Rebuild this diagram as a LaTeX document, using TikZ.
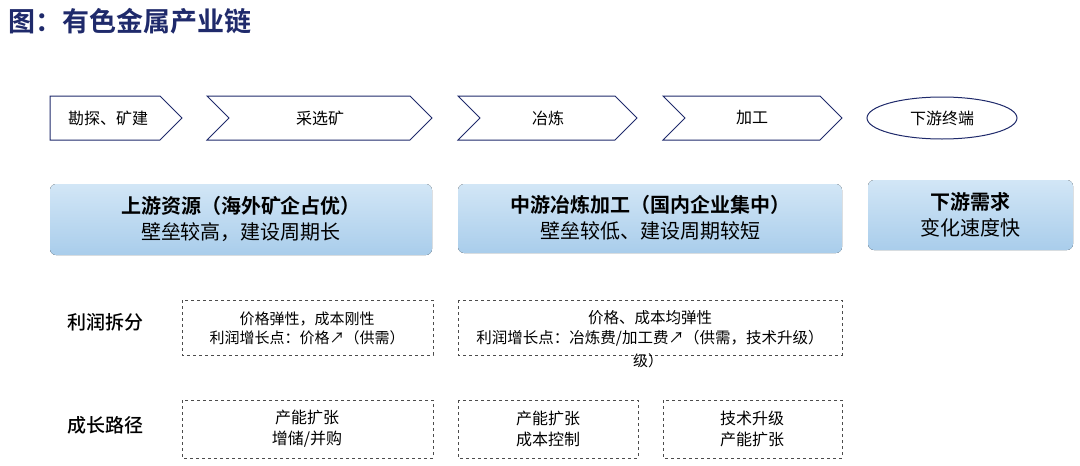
\documentclass[tikz,border=0pt]{standalone}
\usepackage{fontspec}
\setmainfont{Noto Sans CJK SC}
\newfontfamily\cjkb{Noto Sans CJK SC Bold}
\newfontfamily\cjkm{Noto Sans CJK SC Medium}
\usetikzlibrary{shapes.geometric}
\definecolor{navy}{HTML}{1F2A6B}
\definecolor{lblue}{HTML}{A9CDEB}
\definecolor{llblue}{HTML}{D2E6F6}
\tikzset{
  chev/.style={draw=navy, line width=1pt, fill=white},
  bluebox/.style={rounded corners=6pt, top color=llblue, bottom color=lblue, draw=none},
  dbox/.style={draw=black!70, dashed, line width=0.8pt},
  lbl/.style={font=\fontsize{15pt}{19pt}\selectfont, align=center},
  clbl/.style={font=\fontsize{16pt}{18pt}\selectfont},
}
\begin{document}
\begin{tikzpicture}[x=1pt,y=-1pt]
\useasboundingbox (0,0) rectangle (1080,466);
\node[anchor=west, text=navy, font=\cjkb\fontsize{27pt}{29pt}\selectfont] (title) at (5,21) {图：有色金属产业链};
% chevrons
\draw[chev] (50,96) -- (160,96) -- (182,118) -- (160,140) -- (50,140) -- cycle;
\node[clbl] (c1) at (108,118) {勘探、矿建};
\draw[chev] (207,96) -- (410,96) -- (432,118) -- (410,140) -- (207,140) -- (229,118) -- cycle;
\node[clbl] (c2) at (320,118) {采选矿};
\draw[chev] (458,96) -- (615,96) -- (637,118) -- (615,140) -- (458,140) -- (480,118) -- cycle;
\node[clbl] (c3) at (548,118) {冶炼};
\draw[chev] (663,96) -- (820,96) -- (842,118) -- (820,140) -- (663,140) -- (685,118) -- cycle;
\node[clbl] (c4) at (752,118) {加工};
\node[chev, ellipse, minimum width=150pt, minimum height=42pt, clbl] (c5) at (942,118) {下游终端};
% blue boxes
\fill[bluebox] (50,184) rectangle (432,255);
\node[align=center, font=\fontsize{20pt}{26pt}\selectfont] (b1) at (241,219) {{\cjkb 上游资源（海外矿企占优）}\\壁垒较高，建设周期长};
\fill[bluebox] (458,184) rectangle (842,253);
\node[align=center, font=\fontsize{20pt}{26pt}\selectfont] (b2) at (650,218) {{\cjkb 中游冶炼加工（国内企业集中）}\\壁垒较低、建设周期较短};
\fill[bluebox] (868,180) rectangle (1073,250);
\node[align=center, font=\fontsize{20pt}{26pt}\selectfont] (b3) at (970,215) {{\cjkb 下游需求}\\变化速度快};
% row labels
\node[font=\cjkm\fontsize{19pt}{21pt}\selectfont] (r1) at (105,322) {利润拆分};
\node[font=\cjkm\fontsize{19pt}{21pt}\selectfont] (r2) at (105,425) {成长路径};
% dashed boxes
\draw[dbox] (182,300) rectangle (433,355);
\node[lbl] (d1) at (307,328) {价格弹性，成本刚性\\利润增长点：价格↗（供需）};
\draw[dbox] (458,300) rectangle (842,355);
\node[lbl, font=\fontsize{15.5pt}{20pt}\selectfont] (d2) at (650,328) {价格、成本均弹性\\利润增长点：冶炼费/加工费↗（供需，技术升级）};
\node[lbl] (d2b) at (648,361) {级）};
\draw[dbox] (182,400) rectangle (433,458);
\node[lbl, font=\fontsize{16pt}{21pt}\selectfont] (e1) at (307,429) {产能扩张\\增储/并购};
\draw[dbox] (458,400) rectangle (638,458);
\node[lbl, font=\fontsize{16pt}{21pt}\selectfont] (e2) at (548,429) {产能扩张\\成本控制};
\draw[dbox] (663,400) rectangle (842,458);
\node[lbl, font=\fontsize{16pt}{21pt}\selectfont] (e3) at (752,429) {技术升级\\产能扩张};
\end{tikzpicture}
\end{document}
